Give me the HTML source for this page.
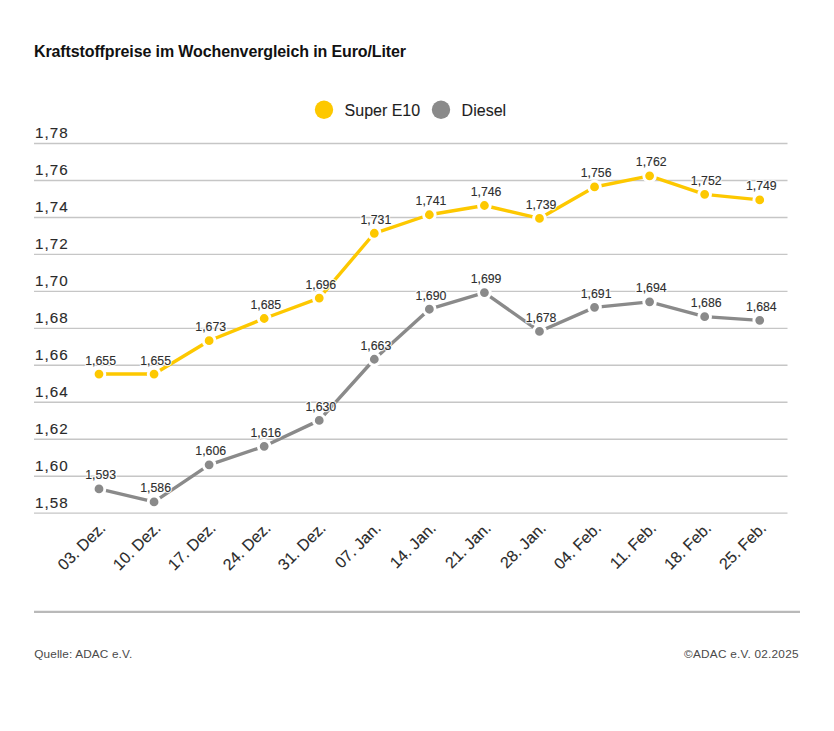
<!DOCTYPE html>
<html><head><meta charset="utf-8"><style>
html,body{margin:0;padding:0;background:#fff;}
body{width:834px;height:731px;position:relative;overflow:hidden;font-family:"Liberation Sans",sans-serif;}
svg{position:absolute;left:0;top:0;}
.t{font-family:"Liberation Sans",sans-serif;}
.yl{font-size:15.2px;fill:#2a2a2a;stroke:#2a2a2a;stroke-width:0.12px;font-family:"Liberation Sans",sans-serif;}
.dlh{font-size:12.3px;fill:#fff;stroke:rgba(255,255,255,0.8);stroke-width:2.5px;font-family:"Liberation Sans",sans-serif;}
.dl{font-size:12.3px;fill:#2e2e2e;stroke:#2e2e2e;stroke-width:0.12px;font-family:"Liberation Sans",sans-serif;}
.xl{font-size:16px;fill:#2a2a2a;stroke:#2a2a2a;stroke-width:0.12px;font-family:"Liberation Sans",sans-serif;}
.ttl{font-size:16px;font-weight:bold;fill:#111;font-family:"Liberation Sans",sans-serif;}
.lg{font-size:16px;fill:#1e1e1e;stroke:#1e1e1e;stroke-width:0.1px;font-family:"Liberation Sans",sans-serif;}
.ft{font-size:11.8px;fill:#4a4a4a;font-family:"Liberation Sans",sans-serif;}
</style></head><body>
<svg width="834" height="731" viewBox="0 0 834 731">
<text x="34" y="56.6" class="ttl" textLength="372" lengthAdjust="spacing">Kraftstoffpreise im Wochenvergleich in Euro/Liter</text>
<circle cx="324" cy="109.8" r="9.2" fill="#fdc800"/>
<text x="344.6" y="116.3" class="lg" textLength="75.5" lengthAdjust="spacing">Super E10</text>
<circle cx="441" cy="109.8" r="9.2" fill="#8a8a8a"/>
<text x="461.6" y="116.3" class="lg" textLength="44.5" lengthAdjust="spacing">Diesel</text>
<line x1="34" y1="143.50" x2="787.5" y2="143.50" stroke="#c6c6c6" stroke-width="1.4"/>
<text x="35" y="138.30" class="yl" textLength="32.6" lengthAdjust="spacing">1,78</text>
<line x1="34" y1="180.47" x2="787.5" y2="180.47" stroke="#c6c6c6" stroke-width="1.4"/>
<text x="35" y="175.27" class="yl" textLength="32.6" lengthAdjust="spacing">1,76</text>
<line x1="34" y1="217.43" x2="787.5" y2="217.43" stroke="#c6c6c6" stroke-width="1.4"/>
<text x="35" y="212.23" class="yl" textLength="32.6" lengthAdjust="spacing">1,74</text>
<line x1="34" y1="254.40" x2="787.5" y2="254.40" stroke="#c6c6c6" stroke-width="1.4"/>
<text x="35" y="249.20" class="yl" textLength="32.6" lengthAdjust="spacing">1,72</text>
<line x1="34" y1="291.36" x2="787.5" y2="291.36" stroke="#c6c6c6" stroke-width="1.4"/>
<text x="35" y="286.16" class="yl" textLength="32.6" lengthAdjust="spacing">1,70</text>
<line x1="34" y1="328.33" x2="787.5" y2="328.33" stroke="#c6c6c6" stroke-width="1.4"/>
<text x="35" y="323.13" class="yl" textLength="32.6" lengthAdjust="spacing">1,68</text>
<line x1="34" y1="365.29" x2="787.5" y2="365.29" stroke="#c6c6c6" stroke-width="1.4"/>
<text x="35" y="360.09" class="yl" textLength="32.6" lengthAdjust="spacing">1,66</text>
<line x1="34" y1="402.25" x2="787.5" y2="402.25" stroke="#c6c6c6" stroke-width="1.4"/>
<text x="35" y="397.06" class="yl" textLength="32.6" lengthAdjust="spacing">1,64</text>
<line x1="34" y1="439.22" x2="787.5" y2="439.22" stroke="#c6c6c6" stroke-width="1.4"/>
<text x="35" y="434.02" class="yl" textLength="32.6" lengthAdjust="spacing">1,62</text>
<line x1="34" y1="476.19" x2="787.5" y2="476.19" stroke="#c6c6c6" stroke-width="1.4"/>
<text x="35" y="470.99" class="yl" textLength="32.6" lengthAdjust="spacing">1,60</text>
<line x1="34" y1="513.15" x2="787.5" y2="513.15" stroke="#c6c6c6" stroke-width="1.4"/>
<text x="35" y="507.95" class="yl" textLength="32.6" lengthAdjust="spacing">1,58</text>
<polyline points="99.00,488.92 154.06,501.88 209.12,464.83 264.18,446.31 319.24,420.38 374.30,359.24 429.36,309.23 484.42,292.55 539.48,331.46 594.54,307.37 649.60,301.82 704.66,316.64 759.72,320.34" fill="none" stroke="#8a8a8a" stroke-width="3.4" stroke-linejoin="round"/>
<circle cx="99.00" cy="488.92" r="5.85" fill="#8a8a8a" stroke="#fff" stroke-width="2.9"/>
<circle cx="154.06" cy="501.88" r="5.85" fill="#8a8a8a" stroke="#fff" stroke-width="2.9"/>
<circle cx="209.12" cy="464.83" r="5.85" fill="#8a8a8a" stroke="#fff" stroke-width="2.9"/>
<circle cx="264.18" cy="446.31" r="5.85" fill="#8a8a8a" stroke="#fff" stroke-width="2.9"/>
<circle cx="319.24" cy="420.38" r="5.85" fill="#8a8a8a" stroke="#fff" stroke-width="2.9"/>
<circle cx="374.30" cy="359.24" r="5.85" fill="#8a8a8a" stroke="#fff" stroke-width="2.9"/>
<circle cx="429.36" cy="309.23" r="5.85" fill="#8a8a8a" stroke="#fff" stroke-width="2.9"/>
<circle cx="484.42" cy="292.55" r="5.85" fill="#8a8a8a" stroke="#fff" stroke-width="2.9"/>
<circle cx="539.48" cy="331.46" r="5.85" fill="#8a8a8a" stroke="#fff" stroke-width="2.9"/>
<circle cx="594.54" cy="307.37" r="5.85" fill="#8a8a8a" stroke="#fff" stroke-width="2.9"/>
<circle cx="649.60" cy="301.82" r="5.85" fill="#8a8a8a" stroke="#fff" stroke-width="2.9"/>
<circle cx="704.66" cy="316.64" r="5.85" fill="#8a8a8a" stroke="#fff" stroke-width="2.9"/>
<circle cx="759.72" cy="320.34" r="5.85" fill="#8a8a8a" stroke="#fff" stroke-width="2.9"/>
<polyline points="99.00,374.06 154.06,374.06 209.12,340.72 264.18,318.49 319.24,298.11 374.30,233.27 429.36,214.75 484.42,205.49 539.48,218.45 594.54,186.96 649.60,175.85 704.66,194.37 759.72,199.93" fill="none" stroke="#fdc800" stroke-width="3.4" stroke-linejoin="round"/>
<circle cx="99.00" cy="374.06" r="5.85" fill="#fdc800" stroke="#fff" stroke-width="2.9"/>
<circle cx="154.06" cy="374.06" r="5.85" fill="#fdc800" stroke="#fff" stroke-width="2.9"/>
<circle cx="209.12" cy="340.72" r="5.85" fill="#fdc800" stroke="#fff" stroke-width="2.9"/>
<circle cx="264.18" cy="318.49" r="5.85" fill="#fdc800" stroke="#fff" stroke-width="2.9"/>
<circle cx="319.24" cy="298.11" r="5.85" fill="#fdc800" stroke="#fff" stroke-width="2.9"/>
<circle cx="374.30" cy="233.27" r="5.85" fill="#fdc800" stroke="#fff" stroke-width="2.9"/>
<circle cx="429.36" cy="214.75" r="5.85" fill="#fdc800" stroke="#fff" stroke-width="2.9"/>
<circle cx="484.42" cy="205.49" r="5.85" fill="#fdc800" stroke="#fff" stroke-width="2.9"/>
<circle cx="539.48" cy="218.45" r="5.85" fill="#fdc800" stroke="#fff" stroke-width="2.9"/>
<circle cx="594.54" cy="186.96" r="5.85" fill="#fdc800" stroke="#fff" stroke-width="2.9"/>
<circle cx="649.60" cy="175.85" r="5.85" fill="#fdc800" stroke="#fff" stroke-width="2.9"/>
<circle cx="704.66" cy="194.37" r="5.85" fill="#fdc800" stroke="#fff" stroke-width="2.9"/>
<circle cx="759.72" cy="199.93" r="5.85" fill="#fdc800" stroke="#fff" stroke-width="2.9"/>
<text x="100.60" y="479.42" class="dlh" text-anchor="middle">1,593</text>
<text x="100.60" y="479.42" class="dl" text-anchor="middle">1,593</text>
<text x="155.66" y="492.38" class="dlh" text-anchor="middle">1,586</text>
<text x="155.66" y="492.38" class="dl" text-anchor="middle">1,586</text>
<text x="210.72" y="455.33" class="dlh" text-anchor="middle">1,606</text>
<text x="210.72" y="455.33" class="dl" text-anchor="middle">1,606</text>
<text x="265.78" y="436.81" class="dlh" text-anchor="middle">1,616</text>
<text x="265.78" y="436.81" class="dl" text-anchor="middle">1,616</text>
<text x="320.84" y="410.88" class="dlh" text-anchor="middle">1,630</text>
<text x="320.84" y="410.88" class="dl" text-anchor="middle">1,630</text>
<text x="375.90" y="349.74" class="dlh" text-anchor="middle">1,663</text>
<text x="375.90" y="349.74" class="dl" text-anchor="middle">1,663</text>
<text x="430.96" y="299.73" class="dlh" text-anchor="middle">1,690</text>
<text x="430.96" y="299.73" class="dl" text-anchor="middle">1,690</text>
<text x="486.02" y="283.05" class="dlh" text-anchor="middle">1,699</text>
<text x="486.02" y="283.05" class="dl" text-anchor="middle">1,699</text>
<text x="541.08" y="321.96" class="dlh" text-anchor="middle">1,678</text>
<text x="541.08" y="321.96" class="dl" text-anchor="middle">1,678</text>
<text x="596.14" y="297.87" class="dlh" text-anchor="middle">1,691</text>
<text x="596.14" y="297.87" class="dl" text-anchor="middle">1,691</text>
<text x="651.20" y="292.32" class="dlh" text-anchor="middle">1,694</text>
<text x="651.20" y="292.32" class="dl" text-anchor="middle">1,694</text>
<text x="706.26" y="307.14" class="dlh" text-anchor="middle">1,686</text>
<text x="706.26" y="307.14" class="dl" text-anchor="middle">1,686</text>
<text x="761.32" y="310.84" class="dlh" text-anchor="middle">1,684</text>
<text x="761.32" y="310.84" class="dl" text-anchor="middle">1,684</text>
<text x="100.60" y="364.56" class="dlh" text-anchor="middle">1,655</text>
<text x="100.60" y="364.56" class="dl" text-anchor="middle">1,655</text>
<text x="155.66" y="364.56" class="dlh" text-anchor="middle">1,655</text>
<text x="155.66" y="364.56" class="dl" text-anchor="middle">1,655</text>
<text x="210.72" y="331.22" class="dlh" text-anchor="middle">1,673</text>
<text x="210.72" y="331.22" class="dl" text-anchor="middle">1,673</text>
<text x="265.78" y="308.99" class="dlh" text-anchor="middle">1,685</text>
<text x="265.78" y="308.99" class="dl" text-anchor="middle">1,685</text>
<text x="320.84" y="288.61" class="dlh" text-anchor="middle">1,696</text>
<text x="320.84" y="288.61" class="dl" text-anchor="middle">1,696</text>
<text x="375.90" y="223.77" class="dlh" text-anchor="middle">1,731</text>
<text x="375.90" y="223.77" class="dl" text-anchor="middle">1,731</text>
<text x="430.96" y="205.25" class="dlh" text-anchor="middle">1,741</text>
<text x="430.96" y="205.25" class="dl" text-anchor="middle">1,741</text>
<text x="486.02" y="195.99" class="dlh" text-anchor="middle">1,746</text>
<text x="486.02" y="195.99" class="dl" text-anchor="middle">1,746</text>
<text x="541.08" y="208.95" class="dlh" text-anchor="middle">1,739</text>
<text x="541.08" y="208.95" class="dl" text-anchor="middle">1,739</text>
<text x="596.14" y="177.46" class="dlh" text-anchor="middle">1,756</text>
<text x="596.14" y="177.46" class="dl" text-anchor="middle">1,756</text>
<text x="651.20" y="166.35" class="dlh" text-anchor="middle">1,762</text>
<text x="651.20" y="166.35" class="dl" text-anchor="middle">1,762</text>
<text x="706.26" y="184.87" class="dlh" text-anchor="middle">1,752</text>
<text x="706.26" y="184.87" class="dl" text-anchor="middle">1,752</text>
<text x="761.32" y="190.43" class="dlh" text-anchor="middle">1,749</text>
<text x="761.32" y="190.43" class="dl" text-anchor="middle">1,749</text>
<text x="106.50" y="529" class="xl" text-anchor="end" transform="rotate(-45 106.50 529)">03. Dez.</text>
<text x="161.56" y="529" class="xl" text-anchor="end" transform="rotate(-45 161.56 529)">10. Dez.</text>
<text x="216.62" y="529" class="xl" text-anchor="end" transform="rotate(-45 216.62 529)">17. Dez.</text>
<text x="271.68" y="529" class="xl" text-anchor="end" transform="rotate(-45 271.68 529)">24. Dez.</text>
<text x="326.74" y="529" class="xl" text-anchor="end" transform="rotate(-45 326.74 529)">31. Dez.</text>
<text x="381.80" y="529" class="xl" text-anchor="end" transform="rotate(-45 381.80 529)">07. Jan.</text>
<text x="436.86" y="529" class="xl" text-anchor="end" transform="rotate(-45 436.86 529)">14. Jan.</text>
<text x="491.92" y="529" class="xl" text-anchor="end" transform="rotate(-45 491.92 529)">21. Jan.</text>
<text x="546.98" y="529" class="xl" text-anchor="end" transform="rotate(-45 546.98 529)">28. Jan.</text>
<text x="602.04" y="529" class="xl" text-anchor="end" transform="rotate(-45 602.04 529)">04. Feb.</text>
<text x="657.10" y="529" class="xl" text-anchor="end" transform="rotate(-45 657.10 529)">11. Feb.</text>
<text x="712.16" y="529" class="xl" text-anchor="end" transform="rotate(-45 712.16 529)">18. Feb.</text>
<text x="767.22" y="529" class="xl" text-anchor="end" transform="rotate(-45 767.22 529)">25. Feb.</text>
<line x1="34" y1="611.8" x2="800" y2="611.8" stroke="#b9b9b9" stroke-width="2.3"/>
<text x="34.2" y="658" class="ft" textLength="98" lengthAdjust="spacing">Quelle: ADAC e.V.</text>
<text x="684" y="658" class="ft" textLength="114.5" lengthAdjust="spacing">©ADAC e.V. 02.2025</text>
</svg>
</body></html>
